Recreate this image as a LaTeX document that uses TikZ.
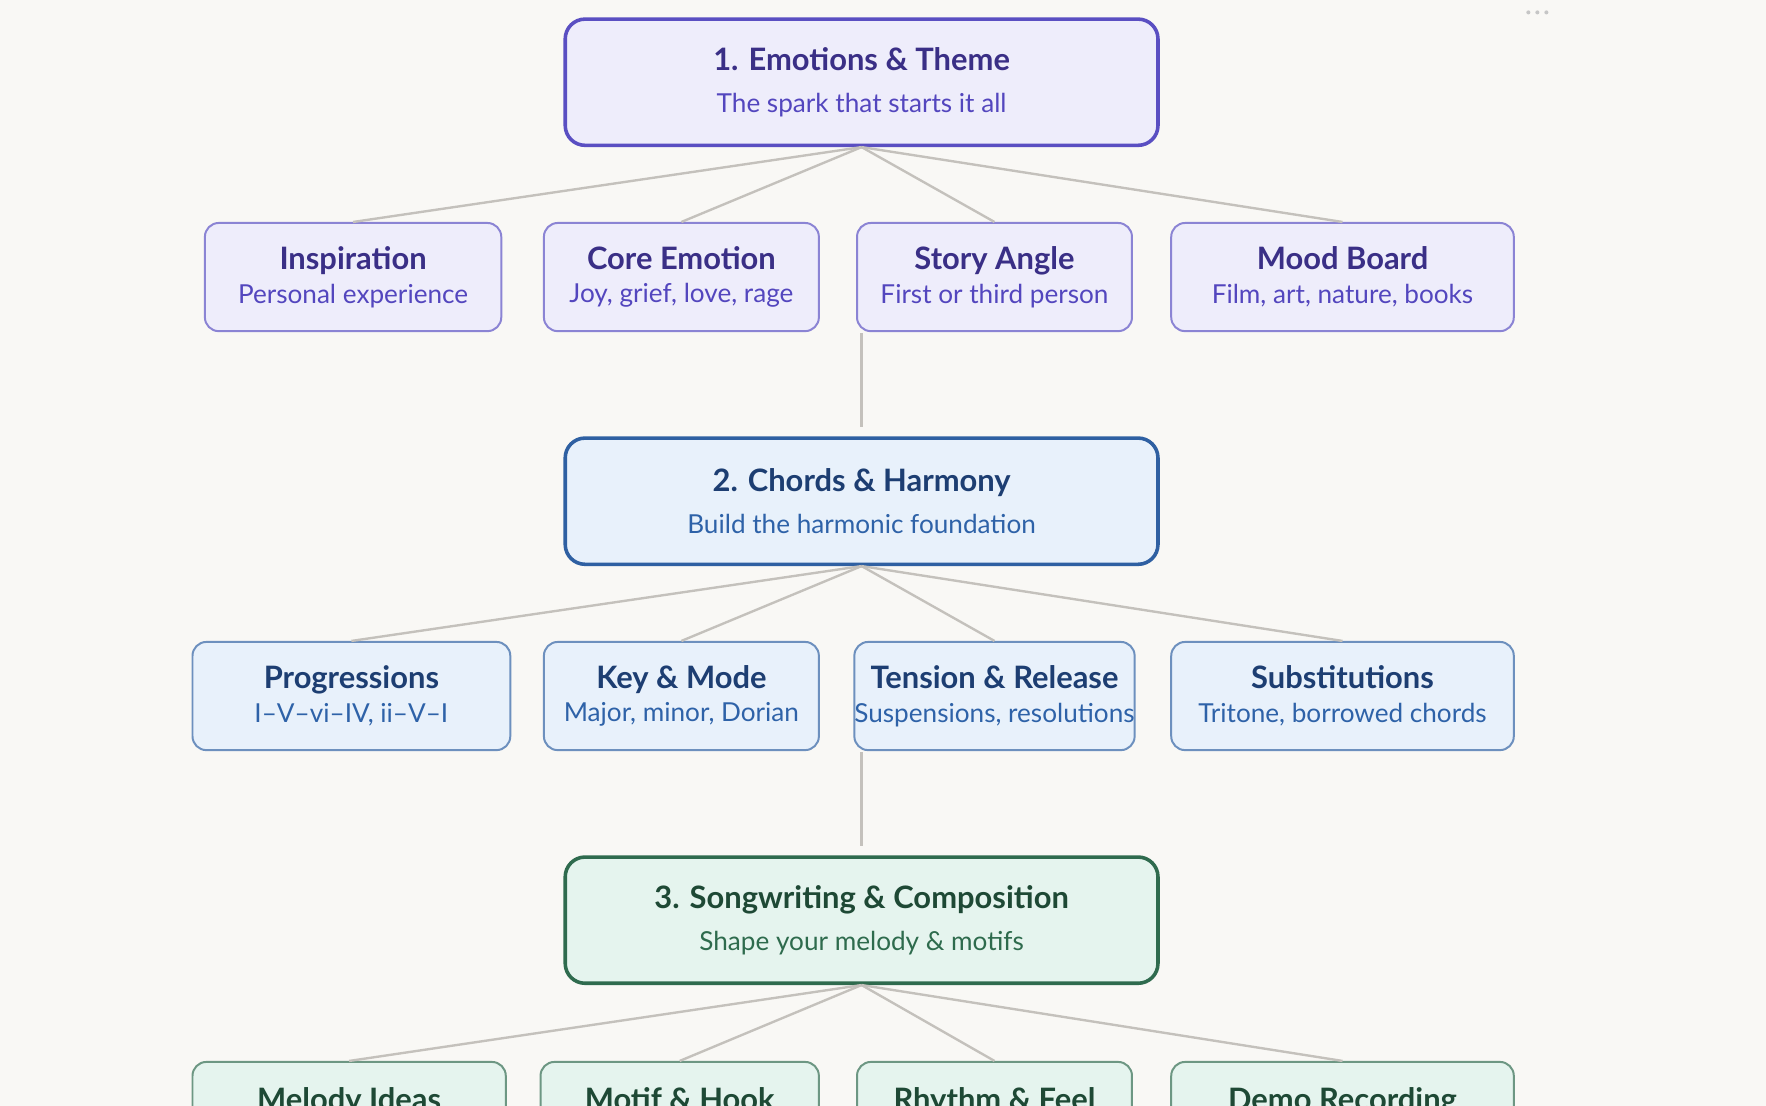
\documentclass[tikz,border=0pt]{standalone}
\usepackage{fontspec}
\setmainfont{Lato}
\usetikzlibrary{positioning}
\definecolor{bg}{HTML}{F9F8F5}
\definecolor{link}{HTML}{C4C1BC}
\definecolor{pfill}{HTML}{EEEDFB}
\definecolor{pdraw}{HTML}{5A4FC2}
\definecolor{ptitle}{HTML}{3A2F86}
\definecolor{psub}{HTML}{5346BE}
\definecolor{bfill}{HTML}{E8F1FB}
\definecolor{bdraw}{HTML}{2F60A2}
\definecolor{btitle}{HTML}{1D3E72}
\definecolor{bsub}{HTML}{2E62A8}
\definecolor{gfill}{HTML}{E5F4EE}
\definecolor{gdraw}{HTML}{2F6B4E}
\definecolor{gtitle}{HTML}{1E4935}
\definecolor{gsub}{HTML}{2E6B4D}
\newcommand{\ttlfont}{\fontsize{7.8}{9}\selectfont\bfseries}
\newcommand{\subfont}{\fontsize{6.6}{8}\selectfont}
\begin{document}
\begin{tikzpicture}[x=0.01cm,y=-0.01cm,
    stage/.style={rectangle, draw, line width=0.9pt, rounded corners=5pt, minimum width=5.26cm, minimum height=1.12cm, align=center, inner sep=0pt, font=\subfont},
    leaf/.style={rectangle, draw, line width=0.5pt, rounded corners=3.5pt, minimum height=0.96cm, align=center, inner sep=0pt, font=\subfont},
    link/.style={draw=link, line width=0.6pt}
  ]
  \fill[bg] (0,0) rectangle (1568,982);
  \clip (0,0) rectangle (1568,982);
  \useasboundingbox (0,0) rectangle (1568,982);
  \foreach \dx in {1357,1365,1373} \fill[gray!45] (\dx,11) circle (1.8);

  % Stage 1
  \node[stage, fill=pfill, draw=pdraw] (emotions) at (765,73) {%
    {\ttlfont\color{ptitle}1. Emotions \& Theme}\\[2.5pt]{\color{psub}The spark that starts it all}};
  \foreach \n/\x/\w/\t/\s in {inspiration/313.5/2.63/Inspiration/Personal experience,
      core/605/2.44/Core Emotion/{Joy, grief, love, rage},
      story/883/2.44/Story Angle/First or third person,
      mood/1192/3.04/Mood Board/{Film, art, nature, books}}
    \node[leaf, fill=pfill, draw=pdraw!70, minimum width=\w cm] (\n) at (\x,246)
      {{\ttlfont\color{ptitle}\t}\\[0.5pt]{\color{psub}\s}};

  % Stage 2
  \node[stage, fill=bfill, draw=bdraw] (chords) at (765,445) {%
    {\ttlfont\color{btitle}2. Chords \& Harmony}\\[2.5pt]{\color{bsub}Build the harmonic foundation}};
  \foreach \n/\x/\w/\t/\s in {progressions/312/2.82/Progressions/{I–V–vi–IV, ii–V–I},
      key/605/2.44/Key \& Mode/{Major, minor, Dorian},
      tension/883/2.44/Tension \& Release/{Suspensions, resolutions},
      subst/1192/3.04/Substitutions/{Tritone, borrowed chords}}
    \node[leaf, fill=bfill, draw=bdraw!70, minimum width=\w cm] (\n) at (\x,618)
      {{\ttlfont\color{btitle}\t}\\[0.5pt]{\color{bsub}\s}};

  % Stage 3
  \node[stage, fill=gfill, draw=gdraw] (songwriting) at (765,817) {%
    {\ttlfont\color{gtitle}3. Songwriting \& Composition}\\[2.5pt]{\color{gsub}Shape your melody \& motifs}};
  \foreach \n/\x/\w/\t in {melody/310/2.78/Melody Ideas,
      motif/603.5/2.47/Motif \& Hook,
      rhythm/883/2.44/Rhythm \& Feel,
      demo/1192/3.04/Demo Recording}
    \node[leaf, fill=gfill, draw=gdraw!70, minimum width=\w cm, anchor=north] (\n) at (\x,942)
      {{\ttlfont\color{gtitle}\t}\\[0.5pt]\phantom{x}};

  % Links
  \foreach \p/\a/\b/\c/\d in {emotions/inspiration/core/story/mood,
      chords/progressions/key/tension/subst,
      songwriting/melody/motif/rhythm/demo}
    \foreach \k in {\a,\b,\c,\d}
      \draw[link] (\p.south) -- (\k.north);
  \draw[link] (emotions.south |- story.south) ++(0,1) -- ([yshift=0.08cm]chords.north);
  \draw[link] (chords.south |- tension.south) ++(0,1) -- ([yshift=0.08cm]songwriting.north);
\end{tikzpicture}
\end{document}
